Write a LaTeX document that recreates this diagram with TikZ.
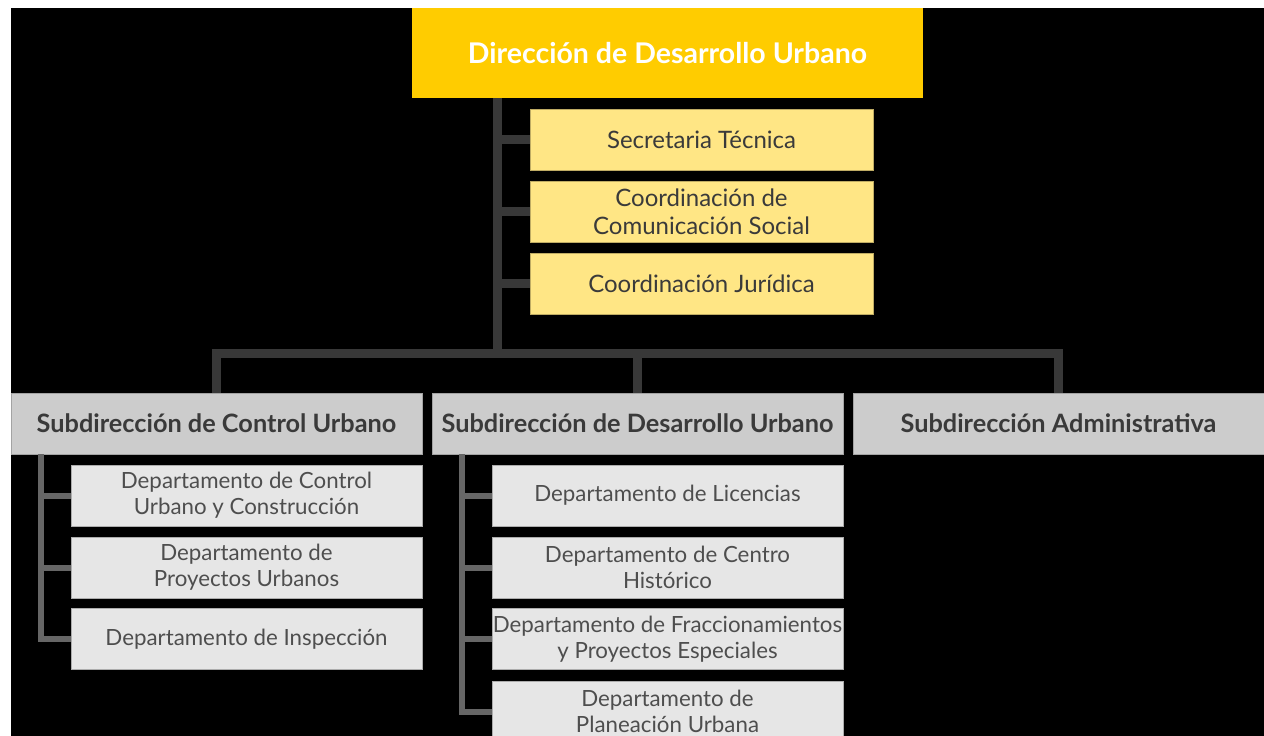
\documentclass[tikz,border=0pt]{standalone}
\usepackage{fontspec}
\setmainfont{Lato}
\usepackage{tikz}
\usetikzlibrary{positioning}

\definecolor{dirYellow}{HTML}{FFCC00}
\definecolor{secYellow}{HTML}{FFE685}
\definecolor{subGray}{HTML}{CCCCCC}
\definecolor{depGray}{HTML}{E6E6E6}
\definecolor{textGray}{HTML}{3A3A3A}
\definecolor{trunkGray}{HTML}{383838}
\definecolor{lineGray}{HTML}{666666}

\begin{document}
\begin{tikzpicture}[x=1pt,y=-1pt,
    dirbox/.style={fill=dirYellow,text=white,font=\bfseries\fontsize{28.5}{32}\selectfont,minimum width=511pt,minimum height=90pt,inner sep=0pt},
    secbox/.style={fill=secYellow,draw=secYellow!75!black,line width=0.6pt,text=textGray,font=\fontsize{24}{28}\selectfont,align=center,minimum width=343pt,minimum height=61pt,inner sep=0pt},
    subbox/.style={fill=subGray,draw=subGray!80!black,line width=0.6pt,text=textGray,font=\bfseries\fontsize{25.3}{28}\selectfont,minimum width=411pt,minimum height=61pt,inner sep=0pt},
    depbox/.style={fill=depGray,draw=depGray!75!black,line width=0.6pt,text=textGray!90!white,font=\fontsize{22.3}{26}\selectfont,align=center,minimum width=351pt,minimum height=61pt,inner sep=0pt},
    trunk/.style={trunkGray,line width=9pt},
    branch/.style={lineGray,line width=6pt}]

    \useasboundingbox (0,0) rectangle (1264,736);
    \fill[white] (0,0) rectangle (1264,736);
    \fill[black] (11,8) rectangle (1264,736);

    % direccion y coordinaciones
    \node[dirbox] (dir) at (667.5,53) {Dirección de Desarrollo Urbano};
    \node[secbox] (st)  at (701.5,139.5) {Secretaria Técnica};
    \node[secbox] (ccs) at (701.5,211.5) {Coordinación de\\Comunicación Social};
    \node[secbox] (cj)  at (701.5,283.5) {Coordinación Jurídica};

    % subdirecciones
    \node[subbox] (scu) at (216.5,423.5) {Subdirección de Control Urbano};
    \node[subbox] (sdu) at (637.5,423.5) {Subdirección de Desarrollo Urbano};
    \node[subbox] (sa)  at (1058.5,423.5) {Subdirección Administrativa};

    % departamentos
    \node[depbox] (dcu) at (246.5,495.5) {Departamento de Control\\Urbano y Construcción};
    \node[depbox] (dpu) at (246.5,567.5) {Departamento de\\Proyectos Urbanos};
    \node[depbox] (di)  at (246.5,639) {Departamento de Inspección};
    \node[depbox] (dl)  at (667.5,495.5) {Departamento de Licencias};
    \node[depbox] (dch) at (667.5,567.5) {Departamento de Centro\\Histórico};
    \node[depbox] (dfp) at (667.5,639) {Departamento de Fraccionamientos\\y Proyectos Especiales};
    \node[depbox] (dpl) at (667.5,711.5) {Departamento de\\Planeación Urbana};

    % conectores
    \coordinate (bus) at (497,353);
    \draw[trunk] (dir.south -| bus) -- (bus);
    \draw[trunk] (st.west -| bus) -- (st.west);
    \draw[trunk] (ccs.west -| bus) -- (ccs.west);
    \draw[trunk] (cj.west -| bus) -- (cj.west);
    \draw[trunk] (scu.north) |- (bus) -| (sa.north);
    \draw[trunk] (sdu.north) -- (sdu.north |- bus);

    \coordinate (cuRail) at (41,454);
    \draw[branch] (cuRail) |- (di.west);
    \draw[branch] (dcu.west -| cuRail) -- (dcu.west);
    \draw[branch] (dpu.west -| cuRail) -- (dpu.west);

    \coordinate (duRail) at (462,454);
    \draw[branch] (duRail) |- (dpl.west);
    \draw[branch] (dl.west -| duRail) -- (dl.west);
    \draw[branch] (dch.west -| duRail) -- (dch.west);
    \draw[branch] (dfp.west -| duRail) -- (dfp.west);
\end{tikzpicture}
\end{document}
